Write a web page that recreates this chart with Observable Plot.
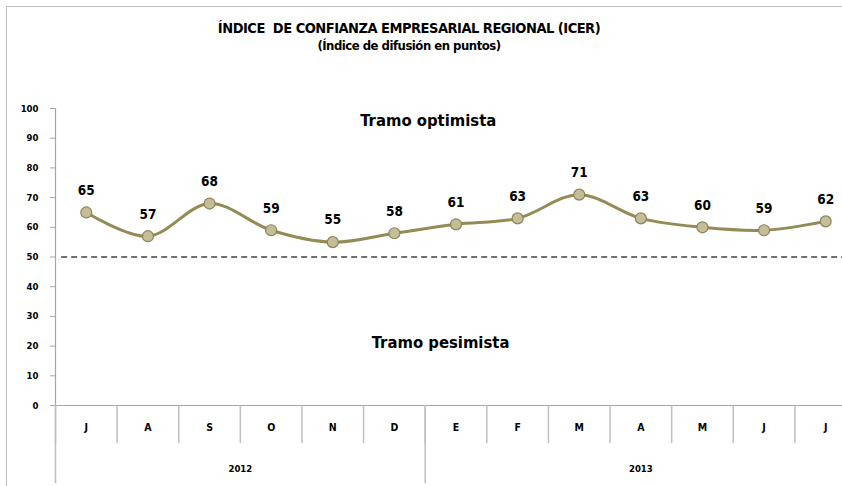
<!DOCTYPE html>
<html>
<head>
<meta charset="utf-8">
<script src="https://cdn.jsdelivr.net/npm/d3@7"></script>
<script src="https://cdn.jsdelivr.net/npm/@observablehq/plot@0.6"></script>
<style>
  html, body { margin: 0; padding: 0; background: #fff; }
  #wrap { position: relative; width: 842px; height: 486px; overflow: hidden;
          font-family: "Liberation Sans Narrow", "DejaVu Sans Condensed", "Arial Narrow", sans-serif; }
  #title { position: absolute; left: 0; width: 818px; top: 20px; text-align: center;
           font-weight: bold; font-size: 14.5px; letter-spacing: -0.5px; line-height: 17px; color: #000; }
  #title .sub { font-size: 13px; }
  #frame { position: absolute; left: 6px; top: 6px; width: 900px; height: 600px;
           border-left: 1px solid #c0c0c0; border-top: 1px solid #c0c0c0; pointer-events: none; }
  #chart { position: absolute; left: 0; top: 0; }
  #chart svg text { font-family: "Liberation Sans Narrow", "DejaVu Sans Condensed", "Arial Narrow", sans-serif; }
</style>
</head>
<body>
<div id="wrap">
  <div id="frame"></div>
  <div id="title">ÍNDICE &nbsp;DE CONFIANZA EMPRESARIAL REGIONAL (ICER)<br><span class="sub">(Índice de difusión en puntos)</span></div>
  <div id="chart"></div>
</div>
<script>
const months = ["J","A","S","O","N","D","E","F","M","A","M","J","J"];
const years = ["2012","2013"];
const yearStart = [0, 6];
const yearEnd = [5, 12];
const values = [65, 57, 68, 59, 55, 58, 61, 63, 71, 63, 60, 59, 62];
const threshold = 50;
const yTicks = [0,10,20,30,40,50,60,70,80,90,100];
const zoneLabels = ["Tramo optimista", "Tramo pesimista"];
const zoneValues = [96, 21];

const data = values.map((v, i) => ({i, v, m: months[i]}));
const boundaries = d3.range(months.length + 1).map(i => i - 0.5);
const yearBounds = [-0.5, 5.5];
const yearData = years.map((y, k) => ({y, x: (yearStart[k] + yearEnd[k]) / 2}));

const chart = Plot.plot({
  width: 842,
  height: 486,
  marginTop: 108,
  marginBottom: 81,
  marginLeft: 55,
  marginRight: 0,
  style: {fontSize: "10px", fontWeight: "bold", color: "#000", background: "transparent"},
  x: {type: "linear", domain: [-0.5, months.length - 0.5], range: [55, 856]},
  y: {domain: [0, 100]},
  marks: [
    // y axis
    Plot.axisY({ticks: yTicks, tickSize: 5, tickPadding: 12, stroke: "#a6a6a6", strokeOpacity: 1, fontWeight: "bold", fontSize: 9.5, label: null}),
    Plot.ruleX([-0.5], {y1: 0, y2: 100, stroke: "#a6a6a6", strokeWidth: 1.2}),
    Plot.ruleY([0], {x1: -0.5, x2: months.length, stroke: "#a6a6a6", strokeWidth: 1.2, insetLeft: -3}),
    // month dividers
    Plot.axisX({ticks: boundaries, tickSize: 38, tickFormat: () => "", stroke: "#bfbfbf", strokeWidth: 1.5, strokeOpacity: 1, label: null}),
    // year dividers
    Plot.axisX({ticks: yearBounds, tickSize: 78, tickFormat: () => "", stroke: "#bfbfbf", strokeWidth: 1.5, strokeOpacity: 1, label: null}),
    // month labels
    Plot.text(data, {x: "i", text: "m", frameAnchor: "bottom", dy: 25, fontSize: 10.5, fontWeight: "bold"}),
    // year labels
    Plot.text(yearData, {x: "x", text: "y", frameAnchor: "bottom", dy: 66, fontSize: 9.5, fontWeight: "bold", letterSpacing: -0.5}),
    // threshold
    Plot.ruleY([threshold], {x1: -0.4, x2: months.length, stroke: "#404040", strokeWidth: 1.5, strokeDasharray: "6,4"}),
    // zone labels
    Plot.text([zoneLabels[0]], {x: 5.55, y: zoneValues[0], text: d => d, fontSize: 16.5, fontWeight: "bold", letterSpacing: -0.8}),
    Plot.text([zoneLabels[1]], {x: 5.75, y: zoneValues[1], text: d => d, fontSize: 16.5, fontWeight: "bold", letterSpacing: -0.8}),
    // series
    Plot.line(data, {x: "i", y: "v", curve: "catmull-rom", stroke: "#948a54", strokeWidth: 3}),
    Plot.dot(data, {x: "i", y: "v", r: 5.5, fill: "#c4bd97", stroke: "#8b8456", strokeWidth: 1.2}),
    Plot.text(data, {x: "i", y: "v", text: d => String(d.v), dy: -22, fontSize: 13.5, fontWeight: "bold", letterSpacing: -0.6})
  ]
});
document.getElementById("chart").appendChild(chart);
</script>
</body>
</html>
